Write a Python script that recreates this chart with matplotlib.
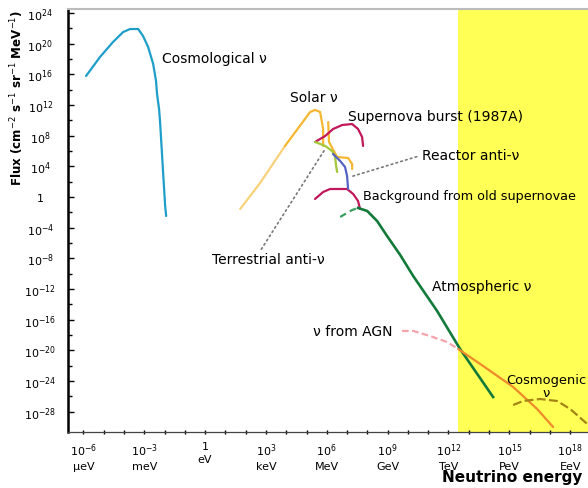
import numpy as np
import matplotlib
matplotlib.use("Agg")
import matplotlib.pyplot as plt
from matplotlib.ticker import FixedLocator, NullFormatter

plt.rcParams['font.family'] = ['DejaVu Sans']

# log10(E / eV) and log10(flux) for each source
cosmo_logE = [-5.87, -5.18, -4.54, -4.04, -3.70, -3.30, -3.06, -2.81, -2.56, -2.42, -2.37, -2.27,
              -2.22, -2.14, -2.06, -1.97, -1.92]
cosmo_logF = [15.77, 18.25, 20.20, 21.50, 21.89, 21.89, 20.98, 19.55, 17.33, 15.12, 13.42, 11.47,
              9.77, 6.26, 2.74, -1.17, -2.48]

solar_pp_logE = [1.73, 2.71, 3.94]
solar_pp_logF = [-1.56, 1.82, 6.65]
solar_logE = [3.94, 5.18, 5.42, 5.67, 5.82, 5.82]
solar_logF = [6.65, 11.08, 11.34, 11.08, 8.86, 6.65]
solar_b8_logE = [6.07, 6.11, 6.51, 7.05, 7.25, 7.25]
solar_b8_logF = [9.77, 7.17, 5.21, 5.08, 4.30, 3.65]

sn_logE = [5.42, 5.92, 6.31, 6.76, 7.25, 7.54, 7.74, 7.79]
sn_logF = [7.17, 7.95, 8.86, 9.38, 9.51, 8.86, 7.82, 6.65]

terr_logE = [5.42, 5.92, 6.26, 6.41, 6.46, 6.51]
terr_logF = [7.17, 6.65, 6.00, 5.21, 4.04, 3.26]

reactor_logE = [6.31, 6.66, 6.90, 7.00, 7.05]
reactor_logF = [5.60, 4.69, 3.91, 2.74, 1.04]

relic_logE = [5.42, 5.82, 6.16, 7.00, 7.30, 7.54, 7.64]
relic_logF = [-0.26, 0.65, 1.04, 1.04, 0.39, -0.52, -1.56]

atm_low_logE = [6.66, 7.25, 7.54]
atm_low_logF = [-2.60, -1.70, -1.43]
atm_logE = [7.54, 7.99, 8.48, 8.97, 9.62, 10.26, 11.44, 12.57, 14.20]
atm_logF = [-1.43, -1.82, -3.13, -5.08, -7.56, -10.30, -14.86, -19.81, -26.07]

agn_low_logE = [9.71, 10.26, 11.09, 11.93, 12.48]
agn_low_logF = [-17.46, -17.46, -18.12, -18.90, -19.81]
agn_logE = [12.48, 13.56, 15.19, 16.37, 17.16]
agn_logF = [-19.81, -21.76, -24.76, -27.63, -29.98]

cosmogenic_logE = [15.19, 15.68, 16.52, 17.36, 18.00, 18.84]
cosmogenic_logF = [-27.11, -26.59, -26.33, -26.59, -27.63, -29.58]

xtick_exp = [-6, -3, 0, 3, 6, 9, 12, 15, 18]
xtick_units = ["μeV", "meV", "eV", "keV", "MeV", "GeV", "TeV", "PeV", "EeV"]
ytick_exp = list(range(-28, 25, 4))
band_start = 12.45


def p10(v):
    return np.power(10.0, np.asarray(v, dtype=float))


fig = plt.figure(figsize=(5.88, 4.89), dpi=100)
ax = fig.add_axes([68 / 588, 56 / 489, 532.6 / 588, 423 / 489])
ax.set_xscale("log")
ax.set_yscale("log")
ax.set_xlim(p10(-6.76), p10(19.5))
ax.set_ylim(p10(-30.63), p10(24.5))

ax.axvspan(p10(band_start), p10(19.5), color="#ffff55", zorder=0, lw=0)

lw = 1.6
kw = dict(lw=lw, solid_joinstyle="round", solid_capstyle="round")
ax.plot(p10(cosmo_logE), p10(cosmo_logF), color="#1e9ec8", **kw)
ax.plot(p10(solar_pp_logE), p10(solar_pp_logF), color="#f8d27a", **kw)
ax.plot(p10(solar_logE), p10(solar_logF), color="#f5b731", **kw)
ax.plot(p10(solar_b8_logE), p10(solar_b8_logF), color="#f5b731", **kw)
ax.plot(p10(sn_logE), p10(sn_logF), color="#c2185a", **kw)
ax.plot(p10(relic_logE), p10(relic_logF), color="#c2185a", **kw)
ax.plot(p10(terr_logE), p10(terr_logF), color="#a4c83a", **kw)
ax.plot(p10(reactor_logE), p10(reactor_logF), color="#5562c4", **kw)
ax.plot(p10(atm_low_logE), p10(atm_low_logF), color="#3aa060", lw=lw, ls=(0, (3, 2)))
ax.plot(p10(atm_logE), p10(atm_logF), color="#137a3a", lw=lw + 0.3, solid_joinstyle="round")
ax.plot(p10(agn_low_logE), p10(agn_low_logF), color="#f6a3ab", lw=lw, ls=(0, (3, 1.5)))
ax.plot(p10(agn_logE), p10(agn_logF), color="#ee8a2a", **kw)
ax.plot(p10(cosmogenic_logE), p10(cosmogenic_logF), color="#a58416", lw=lw, ls=(0, (4, 1.5)))

fs = 10
ax.text(p10(-2.12), p10(18.1), "Cosmological ν", fontsize=fs, va="center")
ax.text(p10(5.37), p10(13.0), "Solar ν", fontsize=fs, va="center", ha="center")
ax.text(p10(7.05), p10(10.56), "Supernova burst (1987A)", fontsize=fs, va="center")
ax.text(p10(7.79), p10(0.13), "Background from old supernovae", fontsize=9.2, va="center")
ax.text(p10(11.19), p10(-11.6), "Atmospheric ν", fontsize=fs, va="center")
ax.text(p10(9.22), p10(-17.46), "ν from AGN", fontsize=fs, va="center", ha="right")
ax.text(p10(16.8), p10(-24.6), "Cosmogenic\nν", fontsize=9.4, va="center", ha="center",
        linespacing=1.0)

leader = dict(arrowstyle="-", color="#777777", lw=1.2, ls=(0, (1, 2)))
ax.annotate("Terrestrial anti-ν", xy=(p10(5.92), p10(6.26)), xytext=(p10(0.35), p10(-8.08)),
            fontsize=fs, va="center", ha="left",
            arrowprops=dict(leader, shrinkA=0, shrinkB=0, relpos=(0.42, 1.0)))
ax.annotate("Reactor anti-ν", xy=(p10(7.15), p10(2.61)), xytext=(p10(10.70), p10(5.47)),
            fontsize=fs, va="center", ha="left",
            arrowprops=dict(leader, shrinkA=2, shrinkB=0, relpos=(0.0, 0.5)))

# axes frame
ax.spines["right"].set_visible(False)
ax.spines["top"].set_color("#bbbbbb")
ax.spines["top"].set_linewidth(1.5)
ax.spines["left"].set_linewidth(1.8)
ax.spines["bottom"].set_color("#444444")
ax.spines["bottom"].set_linewidth(0.9)

ax.xaxis.set_major_locator(FixedLocator(p10(xtick_exp)))
ax.xaxis.set_minor_locator(FixedLocator(p10(range(-6, 19))))
ax.xaxis.set_minor_formatter(NullFormatter())
xlabels = []
for e, u in zip(xtick_exp, xtick_units):
    top = "1" if e == 0 else "10$^{%d}$" % e
    xlabels.append(top + "\n" + u)
ax.set_xticklabels(xlabels, fontsize=8, linespacing=1.4)
ax.tick_params(axis="x", which="both", direction="inout", length=3, width=1, pad=5)

ax.yaxis.set_major_locator(FixedLocator(p10(ytick_exp)))
ax.yaxis.set_minor_locator(FixedLocator(p10(range(-26, 24, 4))))
ax.yaxis.set_minor_formatter(NullFormatter())
ax.set_yticklabels(["1" if e == 0 else "10$^{%d}$" % e for e in ytick_exp], fontsize=8)
ax.tick_params(axis="y", which="major", direction="in", length=4, width=1, pad=20)
ax.tick_params(axis="y", which="minor", direction="in", length=3, width=1)
for lab in ax.get_yticklabels():
    lab.set_ha("center")

fig.text(17 / 588, 1 - 98 / 489, "Flux (cm$^{-2}$ s$^{-1}$ sr$^{-1}$ MeV$^{-1}$)",
         rotation=90, ha="center", va="center", fontsize=8.6, fontweight="bold")
fig.text(512 / 588, 1 - 478 / 489, "Neutrino energy", ha="center", va="center",
         fontsize=11, fontweight="bold")

fig.savefig("out.png", dpi=100)
